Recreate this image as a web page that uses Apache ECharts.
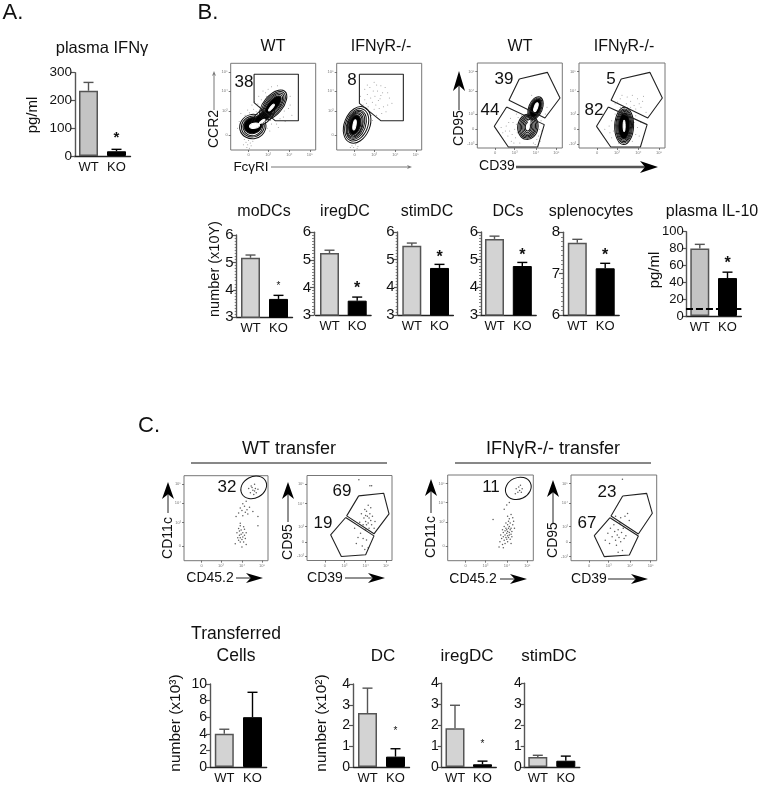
<!DOCTYPE html>
<html><head><meta charset="utf-8">
<style>html,body{margin:0;padding:0;background:#fff}#c{width:763px;height:785px}</style>
<script src="https://cdn.jsdelivr.net/npm/echarts@6/dist/echarts.min.js"></script>
</head><body><div id="c"></div>
<script>
// ---------- data ----------
const categories = ['WT', 'KO'];
const ifng = [235, 17],        ifngErr = [265, 24];
const moDCs = [5.17, 3.67],    moDCsErr = [5.27, 3.8];
const iregB = [5.25, 3.52],    iregBErr = [5.35, 3.65];
const stimB = [5.5, 4.7],      stimBErr = [5.6, 4.83];
const dcsB = [5.75, 4.77],     dcsBErr = [5.85, 4.9];
const spleno = [7.75, 7.13],   splenoErr = [7.83, 7.25];
const il10 = [80, 45],         il10Err = [85, 52];
const il10Limit = 9;
const transferred = [4, 6],    transferredErr = [4.55, 9];
const dcC = [2.6, 0.5],        dcCErr = [3.8, 0.88];
const iregC = [1.85, 0.13],    iregCErr = [2.95, 0.28];
const stimC = [0.48, 0.3],     stimCErr = [0.56, 0.52];

// flow gates, in percent of the plot
const gateCCR2 = [[27.5,87.3],[79.6,87.3],[79.6,33.8],[52.2,33.8],[27.5,54.6]];
const gateCCR2ko = [[26.7,87.3],[78.4,87.3],[78.4,33.8],[51.8,33.8],[26.7,53.8]];
const gateUpB = [[49.4,81.2],[82.4,89],[97.3,58.8],[79.6,35.3],[37.3,56.1]];
const gateLowB = [[34.5,48.2],[78.8,27.5],[71,1.2],[36.5,1.2],[20,25.5]];
const gateUpBko = [[49,81.2],[82.4,89],[96.9,58.8],[80,35.3],[37.3,56.1]];
const gateLowBko = [[34.1,48.2],[79.2,27.5],[71.4,1.2],[36.9,1.2],[20.4,25.5]];
const gateUpC = [[60.8,76],[90.2,79.2],[96.5,54.9],[78.8,31.4],[46.7,52.5]];
const gateLowC = [[45.5,50.6],[78.8,29],[69,6.7],[40.4,4.7],[27.8,30.2]];
const gateUpCko = [[60.3,75.5],[88.3,78.6],[94.9,55.3],[78.6,31.1],[46.7,52.1]];
const gateLowCko = [[45.5,50.2],[78.6,28.8],[68.1,6.6],[38.9,4.7],[27.2,29.2]];
// ellipses: cx, cy, rx, ry, rotation, fill flag (1 white, 2 black)
const contoursCCR2 = [[26,27,15.5,14,15],[26,27,13.5,12,15],[26,27,11.5,10.5,15],[26,28,10.5,9,15,2],
 [38,38,16,7.5,38],[38,38,13,5,38,2],
 [50,52,21,11,50],[50,52,19,9.5,50],[50,52,17,8,50],[50,52,15,6.8,50],[50,52,13,5.4,50,2],
 [28,28,6,3,10,1],[37,33,4,1.2,35,1],[48,49,5,1.4,50,1]];
const contoursCCR2ko = [[24,29,15,22,-22],[23.5,29,13,19.5,-22],[23,29,11,17.5,-20],[22.5,29,9.6,16,-20],[22,29,8.5,14.5,-18],[22,29,7.5,13,-15],[21.5,29,6.5,11.5,-15,2],[21,29,1.8,6,-10,1]];
const contoursCDB = [[59.5,25,12,15,-8],[59.5,25,10.5,13.5,-8],[59.5,25,9,12,-8],[59.5,25,7.5,10.5,-8],[59.5,25,6,9,-8],[59.5,25,4.5,7,-8],[59.5,25,3,5,-8],
 [68.5,47,8,14,-22],[68.5,47,6.8,12.5,-22],[68.5,47,5.8,11.2,-22,2],[69,48,2,5.5,-20,1],[61,30,1,2.5,-10,1]];
const contoursCDBko = [[52.5,26,11,22,-2],[52.5,26,9.8,20,-2],[52.5,26,8.7,18.5,-2],[52.5,26,7.6,17,-2],[52.5,26,6.5,15.5,-2,2],[52.5,26,1.2,7,0,1]];
const ovalWT = [[83,86.3,16,12.5,28]];
const ovalKO = [[82.5,84.4,15.5,12.5,25]];
// sampled events, in percent of the plot
const dotsCCR2 = [[20,46],[28,56],[34,50],[41,66],[45,61],[52,68],[57,63],[61,69],[66,60],[70,52],[63,45],[58,36],[47,34],[42,62],[36,58],[30,44],[25,52],[48,73],[55,74],[40,28],[46,22],[16,12],[18,9],[20,6],[21,11],[23,8],[54,30],[62,38],[12,20],[10,33],[33,62],[38,68],[44,70],[50,64],[59,58],[68,48],[72,40],[64,33],[43,25],[37,20],[31,15],[24,5],[26,10],[15,6],[19,3],[22,2],[48,30],[56,26],[8,25],[12,42],[17,40],[22,43],[27,47],[32,53],[40,56],[65,66],[70,62]];
const dotsCCR2ko = [[30,46],[33,58],[36,64],[39,72],[42,55],[45,62],[48,68],[51,59],[54,66],[57,72],[60,52],[44,47],[37,50],[50,48],[33,70],[47,75],[41,40],[58,44],[18,5],[22,6],[25,4],[20,3],[62,60],[28,62],[35,54],[40,60],[43,68],[46,52],[49,57],[52,63],[55,50],[38,44],[34,40],[42,34],[47,40],[53,42],[31,52],[36,75],[44,78],[52,74],[60,66],[65,54],[16,3],[24,2]];
const dotsCDB = [[38,20],[42,30],[45,12],[48,36],[36,14],[40,8],[44,22],[72,14],[74,8],[76,20],[34,26],[30,18],[50,6],[66,6],[78,28],[72,58],[78,52],[82,48],[64,62],[46,40],[33,20],[37,30],[41,16],[46,28],[43,6],[47,18],[39,35],[52,38],[70,10],[73,22],[68,4],[28,24],[80,40],[75,32]];
const dotsCDBko = [[42,52],[48,58],[52,45],[56,60],[60,55],[64,50],[68,58],[72,48],[75,61],[78,42],[58,42],[38,32],[40,20],[44,12],[68,24],[70,14],[36,18],[66,38],[46,6],[62,8],[45,54],[50,62],[55,52],[62,62],[66,46],[70,52],[74,55],[60,48],[42,40],[35,26],[38,12],[42,28],[66,16],[64,30],[72,30],[30,22],[48,48]];
const dotsTW = [[61,20],[63,33],[64,27],[65,38],[65,24],[66,30],[66,35],[67,22],[67,41],[67,27],[68,31],[68,36],[69,25],[69,16],[70,28],[70,33],[71,40],[71,22],[72,30],[72,37],[73,26],[74,19],[74,33],[67,44],[62,52],[65,56],[67,62],[69,59],[70,53],[72,64],[73,57],[75,60],[76,55],[78,63],[82,58],[88,52],[88,41],[74,70],[70,67],[77,85],[79,80],[80,88],[82,83],[83,78],[84,90],[85,85],[86,80],[81,86],[84,82],[88,84]];
const dotsTK = [[61,22],[62,30],[63,26],[64,36],[64,19],[65,33],[65,28],[66,24],[66,40],[67,30],[67,35],[67,20],[68,27],[68,38],[68,44],[69,32],[69,25],[69,36],[70,29],[70,42],[70,34],[70,22],[71,38],[71,27],[71,46],[72,33],[72,30],[72,40],[73,36],[73,25],[73,44],[74,31],[74,38],[75,34],[75,28],[76,42],[76,50],[77,46],[72,49],[70,52],[74,54],[66,60],[69,65],[72,68],[53,48],[60,16],[65,15],[74,20],[78,38],[80,84],[82,80],[83,86],[84,82],[85,88],[86,80],[87,84],[79,78]];
const dotsCW = [[61,95],[74,88],[76,88],[56,38],[58,20],[60,27],[62,45],[63,32],[64,55],[65,17],[66,42],[67,50],[68,60],[69,36],[69,46],[70,58],[71,52],[72,44],[72,65],[73,38],[73,50],[74,55],[75,47],[75,62],[76,42],[77,52],[70,24],[66,26],[72,15],[68,13],[80,46],[79,38],[70,42],[69,53]];
const dotsCK = [[40,24],[43,32],[45,20],[46,38],[48,28],[50,42],[51,34],[52,24],[53,18],[54,30],[55,36],[56,27],[57,44],[58,22],[59,33],[60,12],[61,38],[62,26],[64,29],[52,52],[58,50],[63,52],[66,55],[68,47],[55,10],[60,95]];

const flowTicksX = [21, 44, 69, 93];
const flowLabelsX = ['0', '10³', '10⁴', '10⁵'];
const flowTicksY = [17, 45, 68, 90];
const flowLabelsY = ['0', '10³', '10⁴', '10⁵'];
const flowTicksY5 = [5, 22, 40, 67, 90];
const flowLabelsY5 = ['-10³', '0', '10³', '10⁴', '10⁵'];

// ---------- layout ----------
const F = 'Liberation Sans';
const barPanels = [
 {v:ifng, e:ifngErr, axis:75, wt:88.5, ko:116.5, top:72.7, bot:156, min:0, max:300, int:100, fill:'#c4c4c4', star:75, ss:15, fs:13.5},
 {v:moDCs, e:moDCsErr, axis:236.7, wt:250.5, ko:278.5, top:235, bot:317.3, min:3, max:6, int:1, minor:1, star:4.18, ss:10},
 {v:iregB, e:iregBErr, axis:314, wt:329.5, ko:357.2, top:232.3, bot:315, min:3, max:6, int:1, minor:1, star:4.06, ss:16},
 {v:stimB, e:stimBErr, axis:397.7, wt:411.8, ko:439.5, top:232, bot:315, min:3, max:6, int:1, minor:1, star:5.17, ss:16},
 {v:dcsB, e:dcsBErr, axis:481, wt:494.5, ko:522.3, top:232, bot:315, min:3, max:6, int:1, minor:1, star:5.25, ss:16},
 {v:spleno, e:splenoErr, axis:563, wt:577.3, ko:605.2, top:232.3, bot:315, min:6, max:8, int:1, minor:1, star:7.51, ss:16},
 {v:il10, e:il10Err, axis:686.7, wt:699.8, ko:727.5, top:231.7, bot:316, min:0, max:100, int:20, fill:'#c4c4c4', star:65.6, ss:16, limit:il10Limit, fs:13},
 {v:transferred, e:transferredErr, axis:210, wt:224.3, ko:252.5, top:684, bot:767.7, min:0, max:10, int:2, fs:14},
 {v:dcC, e:dcCErr, axis:353, wt:367.5, ko:395.5, top:684, bot:767.7, min:0, max:4, int:1, star:1.8, ss:10, fs:14},
 {v:iregC, e:iregCErr, axis:441.7, wt:455, ko:482.5, top:683.3, bot:767, min:0, max:4, int:1, star:1.16, ss:10, fs:14},
 {v:stimC, e:stimCErr, axis:524.7, wt:537.8, ko:565.8, top:683.3, bot:767, min:0, max:4, int:1, fs:14}
];
const flowPanels = [
 {l:230.7, r:315.7, t:63.3, b:150, gates:[gateCCR2], c:contoursCCR2, d:dotsCCR2, yt:flowTicksY, yl:flowLabelsY, ds:1},
 {l:336.7, r:421.7, t:63.3, b:150, gates:[gateCCR2ko], c:contoursCCR2ko, d:dotsCCR2ko, yt:flowTicksY, yl:flowLabelsY, ds:1},
 {l:477.3, r:562.3, t:63, b:148, gates:[gateUpB,gateLowB], c:contoursCDB, d:dotsCDB, yt:flowTicksY5, yl:flowLabelsY5, ds:1},
 {l:579, r:665, t:63, b:148, gates:[gateUpBko,gateLowBko], c:contoursCDBko, d:dotsCDBko, yt:flowTicksY5, yl:flowLabelsY5, ds:1},
 {l:184, r:268, t:475.7, b:560.7, gates:[], c:ovalWT, d:dotsTW, yt:flowTicksY, yl:flowLabelsY, ds:1.5},
 {l:307, r:392, t:475.5, b:560.5, gates:[gateUpC,gateLowC], c:[], d:dotsCW, yt:flowTicksY5, yl:flowLabelsY5, ds:1.5},
 {l:447.7, r:533.3, t:475, b:560.7, gates:[], c:ovalKO, d:dotsTK, yt:flowTicksY, yl:flowLabelsY, ds:1.5},
 {l:571, r:656.7, t:475, b:560.7, gates:[gateUpCko,gateLowCko], c:[], d:dotsCK, yt:flowTicksY5, yl:flowLabelsY5, ds:1.5}
];
// text: string, x, y, size, rotation degrees
const texts = [
 ['A.',13,13,22],['B.',208,13,22],['C.',149,426,22],
 ['plasma IFNγ',102,48,16.5],['WT',273,47,16],['IFNγR-/-',381,47,16],['WT',520,47,16],['IFNγR-/-',624,47,16],
 ['pg/ml',33,115,15,90],['pg/ml',655,270,15,90],
 ['38',244,82,17],['8',352,80,17],['39',504,79,17],['44',490,110,17],['5',611,79,17],['82',594,110,17],
 ['CCR2',214,129,14,90],['FcγRI',251,167,13.5],['CD95',459,128,14,90],['CD39',497,166,14],
 ['moDCs',264,212,16],['iregDC',345,212,16],['stimDC',427,212,16],['DCs',508,212,16],['splenocytes',591,212,16],['plasma IL-10',712,212,16],
 ['number (x10Y)',215,269,14.5,90],
 ['WT transfer',289,449,18],['IFNγR-/- transfer',553,449,18],
 ['32',227,487,17],['69',342,491,17],['19',323,523,17],['11',491,487,17],['23',607,492,17],['67',587,523,17],
 ['CD11c',168,538,14,90],['CD45.2',210,578,14],['CD95',288,542,14,90],['CD39',325,578,14],
 ['CD11c',431,537,14,90],['CD45.2',473,579,14],['CD95',553,540,14,90],['CD39',589,579,14],
 ['Transferred',236,634,17.5],['Cells',236,656,17.5],['DC',383,656,17],['iregDC',467,656,17],['stimDC',549,656,17],
 ['number (x10³)',176,723,15.5,90],['number (x10²)',322,723,15.5,90]
];
// arrows: x0,y0,x1,y1, head length, half width, line colour, line width
const arrows = [
 [214,110,214,71,5,2,'#777',1],[271,167,412,167,5,2,'#777',1],
 [459,110,459,71,20,6,'#222',1],[516,167,658,167,18,6,'#555',2.5],
 [168,513,168,482,17,6,'#222',1],[236,578,263,578,17,5,'#222',1],
 [288,522,288,482,17,6,'#222',1],[345,578,385,578,17,5,'#222',1],
 [431,513,431,479,17,6,'#222',1],[500,579,527,579,17,5,'#222',1],
 [553,523,553,480,17,6,'#222',1],[608,579,648,579,17,5,'#222',1]
];
const rules = [[191,463,387,463],[455,463,651,463]];

// ---------- build option ----------
const grid=[], xAxis=[], yAxis=[], series=[], graphic=[];
const axisGrey='#555';

function errRender(params, api){
  const i=api.value(0), a=api.coord([i,api.value(1)]), b=api.coord([i,api.value(2)]);
  const st={stroke:i===0?'#555':'#000',lineWidth:1.4,fill:null};
  return {type:'group',children:[
    {type:'line',shape:{x1:a[0],y1:a[1],x2:b[0],y2:b[1]},style:st},
    {type:'line',shape:{x1:b[0]-5,y1:b[1],x2:b[0]+5,y2:b[1]},style:st}]};
}
function starRender(size){ return function(params, api){
  const p=api.coord([api.value(0),api.value(1)]);
  return {type:'text',style:{text:'*',x:p[0],y:p[1]+size*0.17,align:'center',verticalAlign:'middle',
    font:(size>12?'bold ':'')+size+'px "'+F+'"',fill:'#111'}};
};}
barPanels.forEach(p=>{
  const band=p.ko-p.wt, left=p.wt-band/2, i=grid.length;
  grid.push({left:left,width:band*2,top:p.top,height:p.bot-p.top,containLabel:false});
  xAxis.push({gridIndex:i,type:'category',data:categories,
    axisLine:{lineStyle:{color:'#222',width:1.4}},axisTick:{show:false},
    axisLabel:{color:'#111',fontFamily:F,fontSize:13,margin:5,interval:0}});
  yAxis.push({gridIndex:i,type:'value',min:p.min,max:p.max,interval:p.int,offset:left-p.axis,splitLine:{show:false},
    axisLine:{show:true,lineStyle:{color:axisGrey,width:1.4}},
    axisTick:{show:true,length:4,lineStyle:{color:axisGrey,width:1.2}},
    minorTick:{show:!!p.minor,splitNumber:9,length:2,lineStyle:{color:axisGrey,width:.7}},
    axisLabel:{color:'#111',fontFamily:F,fontSize:p.fs||15,margin:3}});
  const s={type:'bar',xAxisIndex:i,yAxisIndex:i,barWidth:19,
    data:[{value:p.v[0],itemStyle:{color:p.fill||'#d3d3d3',borderColor:'#555',borderWidth:1.5}},
          {value:p.v[1],itemStyle:{color:'#000',borderColor:'#000',borderWidth:1}}]};
  if(p.limit!=null) s.markLine={silent:true,symbol:'none',label:{show:false},animation:false,z:10,
    lineStyle:{color:'#000',type:[7,3],width:2},data:[{yAxis:p.limit}]};
  series.push(s);
  series.push({type:'custom',xAxisIndex:i,yAxisIndex:i,renderItem:errRender,encode:{x:0,y:[1,2]},z:1,
    data:p.v.map((v,k)=>[k,v,p.e[k]])});
  if(p.star!=null) series.push({type:'custom',xAxisIndex:i,yAxisIndex:i,renderItem:starRender(p.ss),encode:{x:0,y:1},z:3,data:[[1,p.star]]});
});
function ellRender(params, api){
  const c=api.coord([api.value(0),api.value(1)]), s=api.size([api.value(2),api.value(3)]), f=api.value(5);
  return {type:'ellipse',x:c[0],y:c[1],rotation:api.value(4)*Math.PI/180,
    shape:{cx:0,cy:0,rx:s[0],ry:s[1]},
    style:{fill:f===1?'#fff':f===2?'#000':'none',stroke:f===1?'#fff':'#111',lineWidth:1}};
}
flowPanels.forEach(p=>{
  const i=grid.length;
  grid.push({left:p.l,width:p.r-p.l,top:p.t,height:p.b-p.t,show:true,borderColor:'#777',borderWidth:1,backgroundColor:'#fff'});
  const lab=(tv,tl)=>(v)=>{const k=tv.indexOf(v);return k<0?'':tl[k];};
  const ax=(tv,tl)=>({type:'value',min:0,max:100,splitLine:{show:false},axisLine:{show:false},
    axisTick:{show:true,length:2,customValues:tv,lineStyle:{color:'#444',width:.7}},
    axisLabel:{show:true,customValues:tv,formatter:lab(tv,tl),fontFamily:F,fontSize:4,color:'#777',margin:3}});
  xAxis.push(Object.assign({gridIndex:i},ax(flowTicksX,flowLabelsX)));
  yAxis.push(Object.assign({gridIndex:i},ax(p.yt,p.yl)));
  series.push({type:'scatter',xAxisIndex:i,yAxisIndex:i,symbolSize:p.ds,itemStyle:{color:p.ds>1?'#333':'#777'},data:p.d,z:2});
  if(p.c.length) series.push({type:'custom',xAxisIndex:i,yAxisIndex:i,renderItem:ellRender,encode:{x:0,y:1},z:3,data:p.c.map(e=>[e[0],e[1],e[2],e[3],e[4],e[5]||0])});
  p.gates.forEach(g=>series.push({type:'line',xAxisIndex:i,yAxisIndex:i,showSymbol:false,symbol:'none',silent:true,z:4,
    lineStyle:{color:'#222',width:1.1},data:g.concat([g[0]])}));
});
texts.forEach(t=>graphic.push({type:'text',x:t[1],y:t[2],rotation:t[4]?t[4]*Math.PI/180:0,z:20,silent:true,
  style:{text:t[0],align:'center',verticalAlign:'middle',font:t[3]+'px "'+F+'"',fill:'#111'}}));
rules.forEach(r=>graphic.push({type:'line',z:20,silent:true,shape:{x1:r[0],y1:r[1],x2:r[2],y2:r[3]},style:{stroke:'#111',lineWidth:1}}));
arrows.forEach(a=>{
  const [x0,y0,x1,y1,h,w,col,lw]=a, L=Math.hypot(x1-x0,y1-y0), ux=(x1-x0)/L, uy=(y1-y0)/L;
  const bx=x1-ux*h, by=y1-uy*h, nx=x1-ux*h*.72, ny=y1-uy*h*.72;
  graphic.push({type:'line',z:20,silent:true,shape:{x1:x0,y1:y0,x2:nx,y2:ny},style:{stroke:col,lineWidth:lw}});
  graphic.push({type:'polygon',z:20,silent:true,shape:{points:[[x1,y1],[bx-uy*w,by+ux*w],[nx,ny],[bx+uy*w,by-ux*w]]},style:{fill:w>3?'#000':col}});
});

const chart=echarts.init(document.getElementById('c'),null,{renderer:'canvas',width:763,height:785});
chart.setOption({animation:false,backgroundColor:'#fff',textStyle:{fontFamily:F},grid,xAxis,yAxis,series,graphic});
</script></body></html>
